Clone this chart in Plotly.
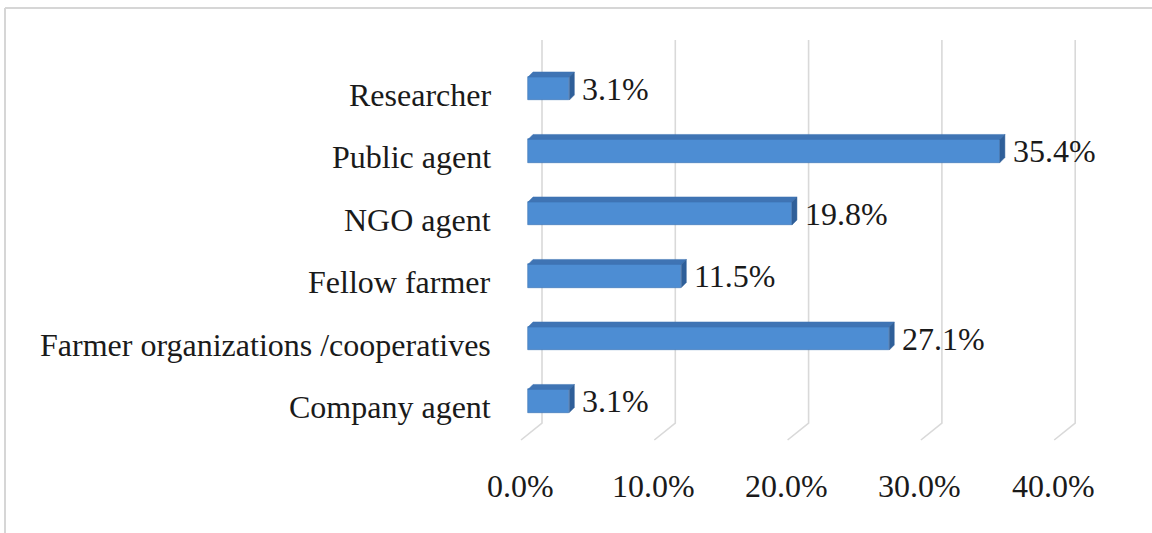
import plotly.graph_objects as go

# Data
categories = ["Company agent", "Farmer organizations /cooperatives", "Fellow farmer",
              "NGO agent", "Public agent", "Researcher"]
shares = [3.1, 27.1, 11.5, 19.8, 35.4, 3.1]
tick_values = [0, 10, 20, 30, 40]
tick_labels = ["0.0%", "10.0%", "20.0%", "30.0%", "40.0%"]

W, H = 1152, 533
PX_PER_PCT = 13.33     # horizontal scale (pixels per percent)
X0_PX = 528            # pixel position of 0 % on the front plane
PX_PER_CAT = 62.5      # vertical spacing of categories
Y0_PX = 401            # pixel centre of the first category

x_range = [-X0_PX / PX_PER_PCT, (W - X0_PX) / PX_PER_PCT]
y_top = (len(categories) - 1) + (Y0_PX - (len(categories) - 1) * PX_PER_CAT) / PX_PER_CAT
y_range = [y_top - H / PX_PER_CAT, y_top]


def px_to_x(dpx):
    return dpx / PX_PER_PCT


def px_to_y(py):
    return y_top - py / PX_PER_CAT


def dy(dpx):
    return dpx / PX_PER_CAT


FONT = "Liberation Serif"
FRONT = "#4D8DD3"
TOP = "#3F74B4"
SIDE = "#2F5F99"
GRID = "#D9D9D9"
TEXT = "#1A1A1A"

fig = go.Figure()

shapes = []
# Back-wall gridlines with the floor edge running towards the front
back_dx = px_to_x(14)
floor_dx = px_to_x(-7)
y_wall_top = px_to_y(40)
y_wall_bot = px_to_y(423)
y_floor = px_to_y(440)
for v in tick_values:
    shapes.append(dict(
        type="path", xref="x", yref="y", layer="below",
        path=(f"M {v + back_dx},{y_wall_top} L {v + back_dx},{y_wall_bot} "
              f"L {v + floor_dx},{y_floor}"),
        line=dict(color=GRID, width=1.6)))

bar_h = 0.37
depth_x = px_to_x(5)
depth_y = dy(5)
ys = list(range(len(categories)))

# Front faces of the bars
fig.add_trace(go.Bar(
    x=shares, y=ys, orientation="h", width=bar_h,
    marker=dict(color=FRONT, line=dict(color="#3A72B2", width=0.6)),
    hoverinfo="skip", showlegend=False))

# Top and side faces giving the bars depth
for v, yc in zip(shares, ys):
    yt = yc + bar_h / 2
    yb = yc - bar_h / 2
    fig.add_trace(go.Scatter(
        x=[0, v, v + depth_x, depth_x, 0],
        y=[yt, yt, yt + depth_y, yt + depth_y, yt],
        fill="toself", fillcolor=TOP, mode="lines",
        line=dict(color=TOP, width=0.5), hoverinfo="skip", showlegend=False))
    fig.add_trace(go.Scatter(
        x=[v, v + depth_x, v + depth_x, v, v],
        y=[yb, yb + depth_y, yt + depth_y, yt, yb],
        fill="toself", fillcolor=SIDE, mode="lines",
        line=dict(color=SIDE, width=0.5), hoverinfo="skip", showlegend=False))

annotations = []
# Value labels
for v, yc in zip(shares, ys):
    annotations.append(dict(
        x=v, y=yc, xref="x", yref="y", text=f"{v:.1f}%",
        xanchor="left", yanchor="middle", xshift=11, yshift=0, showarrow=False,
        font=dict(family=FONT, size=32, color=TEXT)))
# Category labels
for c, yc in zip(categories, ys):
    annotations.append(dict(
        x=px_to_x(-35), y=yc, xref="x", yref="y", text=c,
        xanchor="right", yanchor="middle", yshift=-6, showarrow=False,
        font=dict(family=FONT, size=32, color=TEXT)))
# Value-axis labels
for v, t in zip(tick_values, tick_labels):
    annotations.append(dict(
        x=v + px_to_x(-8), y=px_to_y(486), xref="x", yref="y", text=t,
        xanchor="center", yanchor="middle", showarrow=False,
        font=dict(family=FONT, size=32, color=TEXT)))

shapes += [
    dict(type="line", xref="paper", yref="paper", x0=5 / W, x1=1, y0=1 - 8 / H, y1=1 - 8 / H,
         line=dict(color="#D6D6D6", width=2)),
    dict(type="line", xref="paper", yref="paper", x0=5 / W, x1=5 / W, y0=0, y1=1 - 8 / H,
         line=dict(color="#D6D6D6", width=2)),
]

fig.update_layout(
    width=W, height=H,
    margin=dict(l=0, r=0, t=0, b=0),
    paper_bgcolor="white", plot_bgcolor="white",
    xaxis=dict(range=x_range, visible=False, fixedrange=True),
    yaxis=dict(range=y_range, visible=False, fixedrange=True),
    annotations=annotations,
    shapes=shapes,
    bargap=0,
)

fig.write_html("out.html")
